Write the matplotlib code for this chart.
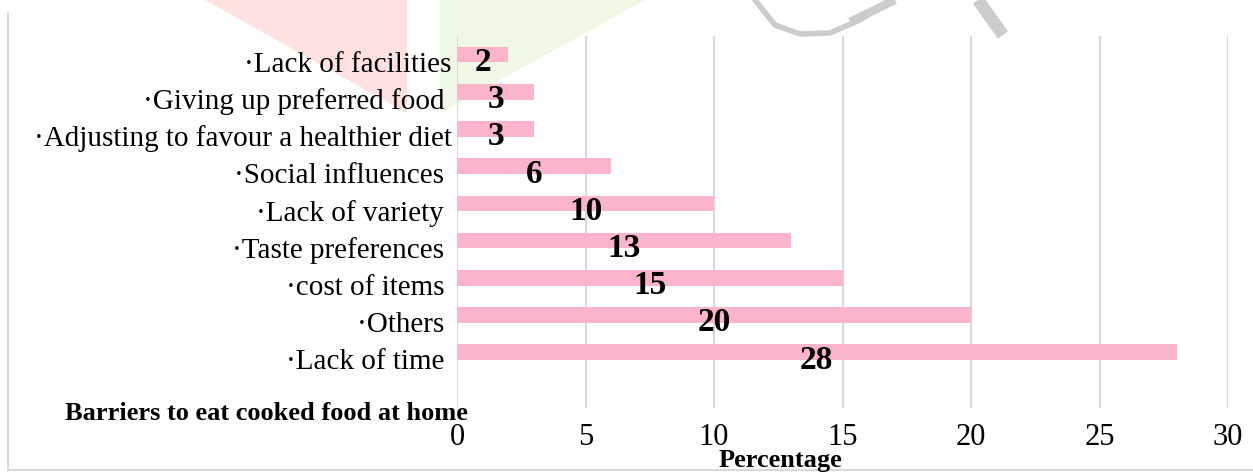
import matplotlib
matplotlib.use('Agg')
from matplotlib import pyplot as plt
from matplotlib import transforms
from matplotlib.patches import Polygon

plt.rcParams['font.family'] = ['Liberation Serif', 'DejaVu Serif']

# data (bottom -> top)
categories = ['·Lack of time ', '·Others ', '·cost of items ', '·Taste preferences ',
              '·Lack of variety ', '·Social influences ', '·Adjusting to favour a healthier diet',
              '·Giving up preferred food ', '·Lack of facilities']
values = [28, 20, 15, 13, 10, 6, 3, 3, 2]
x_ticks = [0, 5, 10, 15, 20, 25, 30]

W, H = 1253, 473
fig = plt.figure(figsize=(W / 100, H / 100), dpi=100)

# background layer for the faint watermark and the frame
bg = fig.add_axes([0, 0, 1, 1], zorder=-5)
bg.set_xlim(0, W)
bg.set_ylim(H, 0)
bg.axis('off')
bg.add_patch(Polygon([(205, 0), (407, 0), (407, 113)], closed=True,
                     facecolor='#ffe1e1', edgecolor='none'))
bg.add_patch(Polygon([(440, 0), (645, 0), (440, 113)], closed=True,
                     facecolor='#eef8e4', edgecolor='none'))
bg.plot([850, 895], [22, 0], color='#cccccc', lw=6, solid_capstyle='butt')
bg.plot([978, 1003], [0, 35], color='#cccccc', lw=9, solid_capstyle='butt')
bg.plot([755, 775, 800, 830, 860, 890], [0, 25, 34, 33, 20, 0], color='#cccccc', lw=4)
bg.plot([8, 8], [13, 470], color='#d9d9d9', lw=1.5)
bg.plot([8, W], [470, 470], color='#d9d9d9', lw=1.5)

ax = fig.add_axes([457 / W, 1 - 408 / H, (1228 - 457) / W, (408 - 36) / H])
ax.patch.set_alpha(0)

y = list(range(len(categories)))
ax.barh(y, values, height=0.42, color='#fbb4c9', zorder=2)

# value labels, bold, a little below the bar centre
for i, v in zip(y, values):
    ax.text(v / 2, i - 0.21, str(v), ha='center', va='center',
            fontsize=24, fontweight='bold', color='black', zorder=3)

ax.set_xlim(0, 30)
ax.set_ylim(-1.5, 8.5)
ax.set_xticks(x_ticks)
ax.set_xticklabels([str(t) for t in x_ticks], fontsize=22)
ax.set_yticks(y)
ax.set_yticklabels(categories, fontsize=21)
ax.tick_params(axis='both', length=0)
ax.tick_params(axis='x', pad=11)
ax.tick_params(axis='y', pad=4)
ax.grid(axis='x', color='#d9d9d9', linewidth=1.5, zorder=0)
ax.set_axisbelow(True)
for s in ax.spines.values():
    s.set_visible(False)

offset = transforms.ScaledTranslation(0, -7 / 100, fig.dpi_scale_trans)
for lab in ax.get_yticklabels():
    lab.set_transform(lab.get_transform() + offset)

fig.text(65 / W, 1 - 413 / H, 'Barriers to eat cooked food at home', ha='left', va='center',
         fontsize=19, fontweight='bold')
fig.text(780 / W, 1 - 460 / H, 'Percentage', ha='center', va='center',
         fontsize=19, fontweight='bold')

plt.savefig('out.png', dpi=100)
